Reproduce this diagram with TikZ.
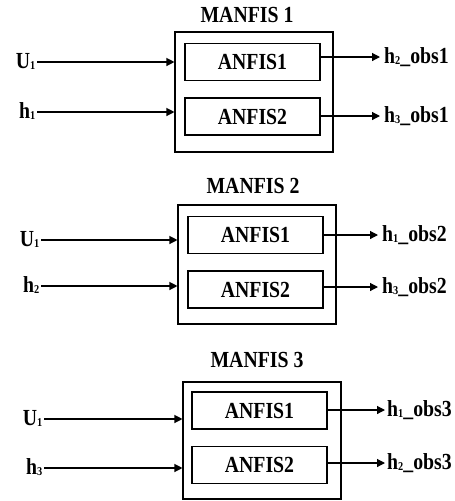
\documentclass[tikz,border=0pt]{standalone}
\usepackage{fontspec}
\setmainfont{Liberation Serif}[FakeStretch=0.86]
\usetikzlibrary{arrows.meta}
% small lowered index digit used in signal names
\newcommand{\idx}[1]{\raisebox{-1pt}{\fontsize{12}{12}\selectfont #1}}
\begin{document}
\begin{tikzpicture}[x=1pt,y=-1pt,
  every node/.style={font=\fontsize{23}{25}\selectfont\bfseries},
  outerbox/.style={draw, line width=1.1pt, inner sep=0pt, minimum width=158pt},
  anfis/.style={draw, line width=1.1pt, inner sep=0pt, minimum width=135pt, minimum height=37pt},
  inlab/.style={anchor=east, inner xsep=1.5pt, inner ysep=0pt, text height=15pt, text depth=3pt},
  outlab/.style={anchor=west, inner xsep=4pt, inner ysep=0pt, text height=15pt, text depth=3pt},
  title/.style={inner sep=0pt},
  arr/.style={line width=1.2pt, -{Triangle[length=8pt,width=8pt]}}]
\useasboundingbox (0,0) rectangle (455,501);

% ---------- MANFIS 1 ----------
\node[title] (t1) at (247,15) {MANFIS 1};
\node[outerbox, minimum height=120pt] (m1) at (254,92) {};
\node[anfis] (a11) at (252.5,62) {ANFIS1};
\node[anfis] (a12) at (252.5,116.5) {ANFIS2};
\node[inlab] (i11) at (37,62) {U\idx{1}};
\node[inlab] (i12) at (37,112) {h\idx{1}};
\node[outlab] (o11) at (380,57) {h\idx{2}\_obs1};
\node[outlab] (o12) at (380,116) {h\idx{3}\_obs1};
\draw[arr] (i11.east) -- (i11.east -| m1.west);
\draw[arr] (i12.east) -- (i12.east -| m1.west);
\draw[arr] (o11.west -| a11.east) -- (o11.west);
\draw[arr] (o12.west -| a12.east) -- (o12.west);

% ---------- MANFIS 2 ----------
\node[title] (t2) at (253,186) {MANFIS 2};
\node[outerbox, minimum height=119pt] (m2) at (257,264.5) {};
\node[anfis] (a21) at (255.5,235) {ANFIS1};
\node[anfis] (a22) at (255.5,289.5) {ANFIS2};
\node[inlab] (i21) at (41,240) {U\idx{1}};
\node[inlab] (i22) at (41,286) {h\idx{2}};
\node[outlab] (o21) at (378,235) {h\idx{1}\_obs2};
\node[outlab] (o22) at (378,287) {h\idx{3}\_obs2};
\draw[arr] (i21.east) -- (i21.east -| m2.west);
\draw[arr] (i22.east) -- (i22.east -| m2.west);
\draw[arr] (o21.west -| a21.east) -- (o21.west);
\draw[arr] (o22.west -| a22.east) -- (o22.west);

% ---------- MANFIS 3 ----------
\node[title] (t3) at (257,360) {MANFIS 3};
\node[outerbox, minimum height=117pt] (m3) at (262,440.5) {};
\node[anfis] (a31) at (259.5,410.5) {ANFIS1};
\node[anfis] (a32) at (259.5,465) {ANFIS2};
\node[inlab] (i31) at (44,419) {U\idx{1}};
\node[inlab] (i32) at (44,468) {h\idx{3}};
\node[outlab, inner xsep=2pt] (o31) at (385,410) {h\idx{1}\_obs3};
\node[outlab, inner xsep=2pt] (o32) at (385,463) {h\idx{2}\_obs3};
\draw[arr] (i31.east) -- (i31.east -| m3.west);
\draw[arr] (i32.east) -- (i32.east -| m3.west);
\draw[arr] (o31.west -| a31.east) -- (o31.west);
\draw[arr] (o32.west -| a32.east) -- (o32.west);
\end{tikzpicture}
\end{document}
